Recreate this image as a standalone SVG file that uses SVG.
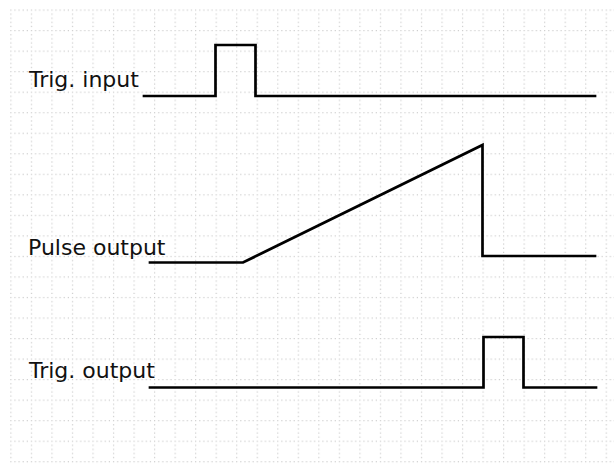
<svg xmlns="http://www.w3.org/2000/svg" width="614" height="464" viewBox="0 0 614 464">
  <style>
    .lbl { font-family: "DejaVu Sans", Verdana, sans-serif; font-size: 22px; fill: #111; }
    .sig { fill: none; stroke: #000; stroke-width: 2.7; stroke-linejoin: miter; stroke-linecap: square; }
  </style>
  <defs>
    <pattern id="grid" patternUnits="userSpaceOnUse" x="10.3" y="9.5" width="20.53" height="20.53">
      <g fill="#cccccc">
        <rect x="0" y="0" width="1.2" height="1.2"/>
        <rect x="4.1" y="0" width="1.2" height="1.2"/>
        <rect x="8.2" y="0" width="1.2" height="1.2"/>
        <rect x="12.3" y="0" width="1.2" height="1.2"/>
        <rect x="16.4" y="0" width="1.2" height="1.2"/>
        <rect x="0" y="4.1" width="1.2" height="1.2"/>
        <rect x="0" y="8.2" width="1.2" height="1.2"/>
        <rect x="0" y="12.3" width="1.2" height="1.2"/>
        <rect x="0" y="16.4" width="1.2" height="1.2"/>
      </g>
    </pattern>
  </defs>
  <rect x="0" y="0" width="614" height="464" fill="#fff"/>
  <rect x="10" y="9" width="604" height="455" fill="url(#grid)"/>

  <g id="trig-input">
    <text class="lbl" x="29" y="87">Trig. input</text>
    <polyline class="sig" points="144,96 215.5,96 215.5,45 255.5,45 255.5,96 595,96"/>
  </g>

  <g id="pulse-output">
    <text class="lbl" x="28" y="254.5">Pulse output</text>
    <polyline class="sig" points="150,262.5 243,262.5 482.5,145 482.5,256 595,256"/>
  </g>

  <g id="trig-output">
    <text class="lbl" x="29" y="377.5">Trig. output</text>
    <polyline class="sig" points="150,387.5 483.5,387.5 483.5,337 523.5,337 523.5,387.5 596,387.5"/>
  </g>

  <g id="connectors"></g>
</svg>
